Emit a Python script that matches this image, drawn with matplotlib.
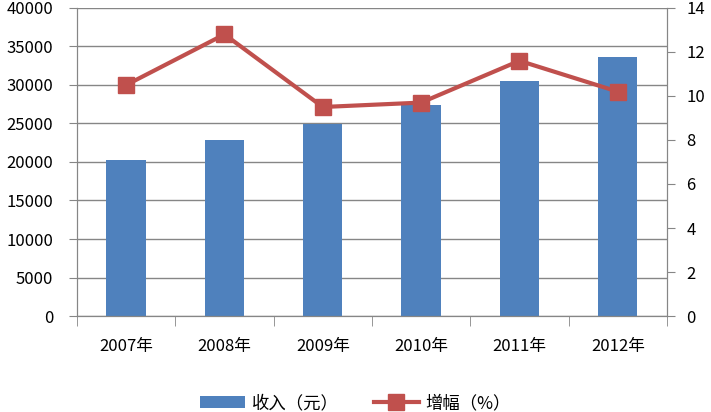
import matplotlib
matplotlib.use("Agg")
import matplotlib.pyplot as plt
from matplotlib.lines import Line2D
from matplotlib.patches import Patch
import numpy as np

plt.rcParams['font.family'] = ['Noto Sans CJK SC', 'DejaVu Sans']

categories = ['2007年', '2008年', '2009年', '2010年', '2011年', '2012年']
income = [20200, 22800, 24900, 27400, 30500, 33600]
growth = [10.5, 12.8, 9.5, 9.7, 11.6, 10.2]
left_ticks = [0, 5000, 10000, 15000, 20000, 25000, 30000, 35000, 40000]
right_ticks = [0, 2, 4, 6, 8, 10, 12, 14]

bar_color = '#4F81BD'
line_color = '#C0504D'
axis_color = '#868686'

fig = plt.figure(figsize=(7.11, 4.12), dpi=100)
ax = fig.add_axes([0.1083, 0.233, 0.8297, 0.7476])
x = np.arange(len(categories))
ax.bar(x, income, width=0.4, color=bar_color, zorder=2)
ax.set_xlim(-0.5, len(categories) - 0.5)
ax.set_ylim(0, 40000)
ax.set_yticks(left_ticks)
ax.set_yticklabels([str(v) for v in left_ticks], fontsize=12)
ax.yaxis.grid(True, color=axis_color, linewidth=1, zorder=0)
ax.set_axisbelow(True)
ax.set_xticks(x)
ax.set_xticklabels(categories, fontsize=12)
ax.tick_params(axis='x', length=0, pad=16)
ax.set_xticks(np.arange(-0.5, len(categories), 1), minor=True)
ax.tick_params(axis='x', which='minor', length=7, color=axis_color)
ax.tick_params(axis='y', length=6, color=axis_color, pad=11)
ax.spines['top'].set_visible(False)
for s in ['left', 'right', 'bottom']:
    ax.spines[s].set_color(axis_color)

ax2 = ax.twinx()
ax2.plot(x, growth, color=line_color, linewidth=3, marker='s', markersize=11, zorder=3)
ax2.set_ylim(0, 14)
ax2.set_yticks(right_ticks)
ax2.set_yticklabels([str(v) for v in right_ticks], fontsize=12)
ax2.tick_params(axis='y', length=6, color=axis_color, pad=8)
ax2.spines['top'].set_visible(False)
for s in ['left', 'right', 'bottom']:
    ax2.spines[s].set_color(axis_color)

handles = [Patch(facecolor=bar_color, edgecolor='none'),
           Line2D([0], [0], color=line_color, linewidth=3, marker='s', markersize=11)]
fig.legend(handles, ['收入（元）', '增幅（%）'], loc='center', bbox_to_anchor=(0.5, 0.022),
           ncol=2, frameon=False, fontsize=12.5, handlelength=2.6, columnspacing=2.0,
           handletextpad=0.4)

fig.savefig('out.png', dpi=100)
